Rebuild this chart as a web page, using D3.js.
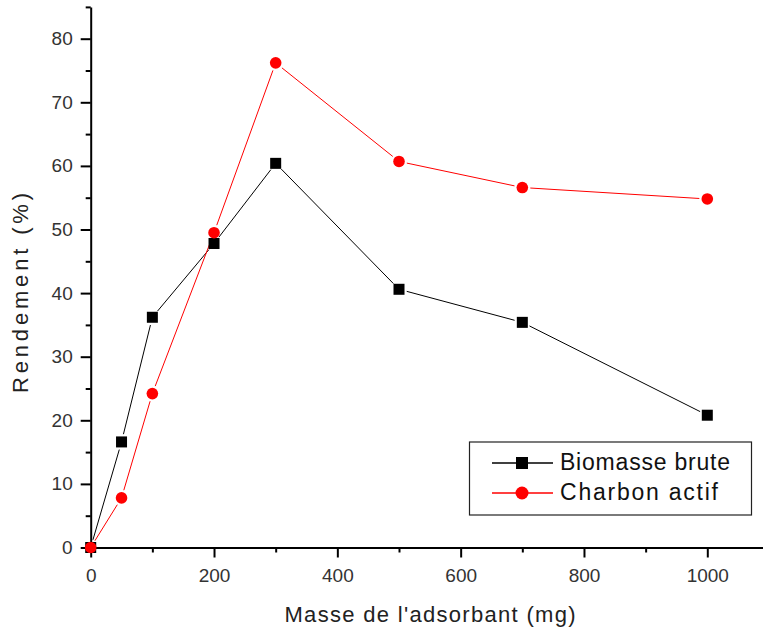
<!DOCTYPE html>
<html>
<head>
<meta charset="utf-8">
<script src="https://cdn.jsdelivr.net/npm/d3@7"></script>
<style>
  body { margin: 0; background: #fff; }
  svg { display: block; font-family: "Liberation Sans", Arial, sans-serif; }
</style>
</head>
<body>
<script>
const masses = [0, 50, 100, 200, 300, 500, 700, 1000];
const biomasseBrute = [0, 16.6, 36.2, 47.8, 60.4, 40.6, 35.4, 20.8];
const charbonActif = [0, 7.8, 24.2, 49.5, 76.2, 60.7, 56.6, 54.8];
const xTicks = [0, 200, 400, 600, 800, 1000];
const yTicks = [0, 10, 20, 30, 40, 50, 60, 70, 80];

const width = 763, height = 631;
const mLeft = 90.7, mBottom = 547.5, mTop = 6.9;

const svg = d3.select("body").append("svg")
  .attr("width", width).attr("height", height);

const x = d3.scaleLinear().domain([0, 1100]).range([mLeft, mLeft + 616.6 * 1.1]);
const y = d3.scaleLinear().domain([0, 85]).range([mBottom, mTop]);

// minor ticks
const xMinor = d3.range(100, 1100, 200);
const yMinor = d3.range(5, 90, 10);

const xAxis = svg.append("g").attr("transform", `translate(0,${mBottom})`);
xAxis.call(d3.axisBottom(x).tickValues(xTicks).tickFormat(d3.format("d"))
  .tickSize(10).tickPadding(11).tickSizeOuter(0));
xAxis.append("g").call(d3.axisBottom(x).tickValues(xMinor).tickSize(5).tickFormat("").tickSizeOuter(0))
  .select(".domain").remove();

const yAxis = svg.append("g").attr("transform", `translate(${mLeft},0)`);
yAxis.call(d3.axisLeft(y).tickValues(yTicks).tickSize(10).tickPadding(8).tickSizeOuter(0));
yAxis.append("g").call(d3.axisLeft(y).tickValues(yMinor).tickSize(5).tickFormat("").tickSizeOuter(0))
  .select(".domain").remove();

svg.selectAll(".domain").attr("stroke", "#000").attr("stroke-width", 2);
svg.selectAll(".tick line").attr("stroke", "#000").attr("stroke-width", 2);
svg.selectAll(".tick text").attr("fill", "#333").style("font-size", "19px")
  .style("font-family", "'Liberation Sans', Arial, sans-serif");

// axis titles
svg.append("text")
  .attr("transform", "translate(28,293) rotate(-90)")
  .attr("text-anchor", "middle")
  .attr("textLength", 200).attr("lengthAdjust", "spacing")
  .style("font-size", "22px").attr("fill", "#222")
  .text("Rendement (%)");
svg.append("text")
  .attr("x", 430).attr("y", 622)
  .attr("text-anchor", "middle")
  .attr("textLength", 291).attr("lengthAdjust", "spacing")
  .style("font-size", "22px").attr("fill", "#222")
  .text("Masse de l'adsorbant (mg)");

// lines with gaps at markers
function gappedSegments(vals, gap) {
  const segs = [];
  for (let i = 0; i < masses.length - 1; i++) {
    const x1 = x(masses[i]), y1 = y(vals[i]), x2 = x(masses[i + 1]), y2 = y(vals[i + 1]);
    const len = Math.hypot(x2 - x1, y2 - y1);
    if (len <= 2 * gap) continue;
    const ux = (x2 - x1) / len, uy = (y2 - y1) / len;
    segs.push([x1 + ux * gap, y1 + uy * gap, x2 - ux * gap, y2 - uy * gap]);
  }
  return segs;
}

const series = [
  { name: "Biomasse brute", vals: biomasseBrute, color: "#000", shape: "square", len: 170 },
  { name: "Charbon actif", vals: charbonActif, color: "#ff0000", shape: "circle", len: 158 }
];

series.forEach(s => {
  svg.append("g").selectAll("line").data(gappedSegments(s.vals, 8)).enter().append("line")
    .attr("x1", d => d[0]).attr("y1", d => d[1]).attr("x2", d => d[2]).attr("y2", d => d[3])
    .attr("stroke", s.color).attr("stroke-width", 1);
});

series.forEach(s => {
  const g = svg.append("g");
  const pts = masses.map((m, i) => [x(m), y(s.vals[i])]);
  if (s.shape === "square") {
    g.selectAll("rect").data(pts).enter().append("rect")
      .attr("x", d => d[0] - 5.5).attr("y", d => d[1] - 5.5)
      .attr("width", 11).attr("height", 11).attr("fill", s.color);
  } else {
    g.selectAll("circle").data(pts).enter().append("circle")
      .attr("cx", d => d[0]).attr("cy", d => d[1]).attr("r", 5.8).attr("fill", s.color);
  }
});

// legend
const lg = svg.append("g");
lg.append("rect").attr("x", 469.5).attr("y", 442).attr("width", 282).attr("height", 73)
  .attr("fill", "#fff").attr("stroke", "#222").attr("stroke-width", 1.2);
series.forEach((s, i) => {
  const ly = 463 + i * 30;
  lg.append("line").attr("x1", 492).attr("x2", 553).attr("y1", ly).attr("y2", ly)
    .attr("stroke", s.color).attr("stroke-width", 1.5);
  if (s.shape === "square") {
    lg.append("rect").attr("x", 522 - 6).attr("y", ly - 6).attr("width", 12).attr("height", 12).attr("fill", s.color);
  } else {
    lg.append("circle").attr("cx", 522).attr("cy", ly).attr("r", 6.5).attr("fill", s.color);
  }
  lg.append("text").attr("x", 560).attr("y", ly + 7)
    .attr("textLength", s.len).attr("lengthAdjust", "spacing")
    .style("font-size", "23px").attr("fill", "#111").text(s.name);
});
</script>
</body>
</html>
